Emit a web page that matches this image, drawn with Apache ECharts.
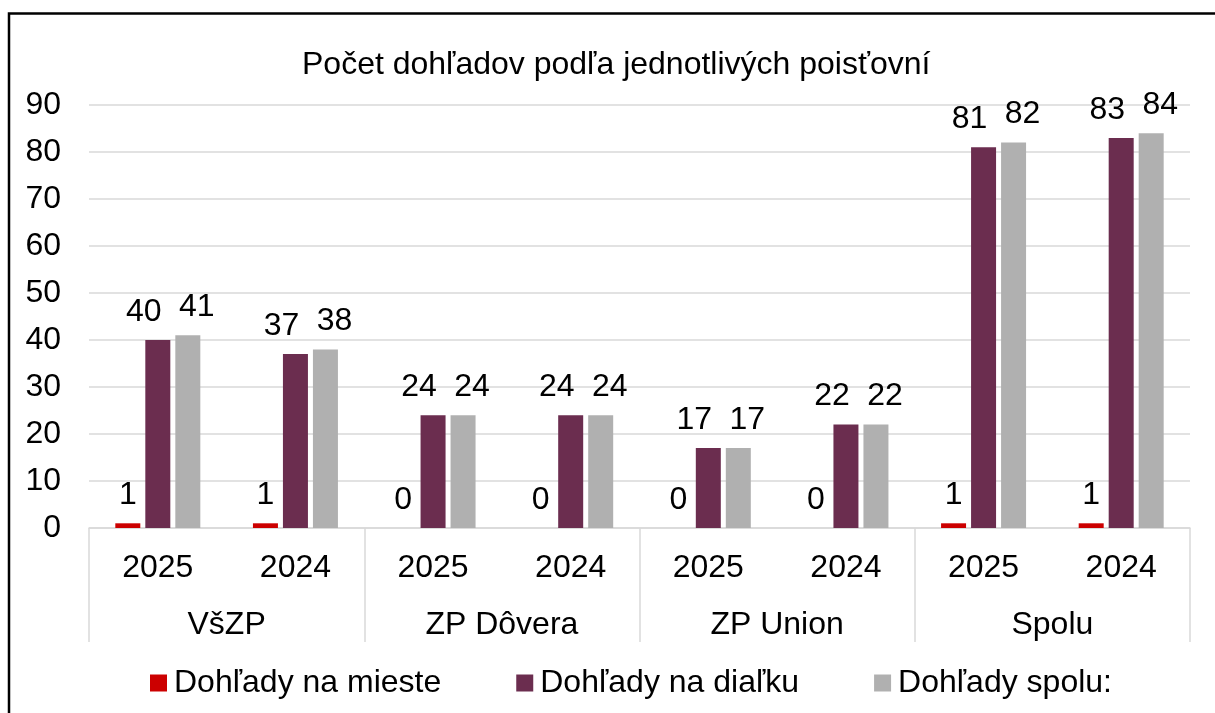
<!DOCTYPE html>
<html>
<head>
<meta charset="utf-8">
<script src="https://cdn.jsdelivr.net/npm/echarts@6/dist/echarts.min.js"></script>
<style>
  html, body { margin: 0; padding: 0; background: #fff; }
  #main { width: 1215px; height: 713px; }
</style>
</head>
<body>
<div id="main"></div>
<script>
// údaje z grafu
const years = ['2025', '2024', '2025', '2024', '2025', '2024', '2025', '2024'];
const groups = ['VšZP', 'ZP Dôvera', 'ZP Union', 'Spolu'];
const naMieste = [1, 1, 0, 0, 0, 0, 1, 1];
const naDialku = [40, 37, 24, 24, 17, 22, 81, 83];
const spolu = [41, 38, 24, 24, 17, 22, 82, 84];
const yTicks = { min: 0, max: 90, interval: 10 };

const font = 'Liberation Sans, Arial, sans-serif';
const fs = 32;
const gridColor = '#d9d9d9';

const myChart = echarts.init(document.getElementById('main'));

// popisky hodnôt nad stĺpcami (Excel ich mierne rozťahuje do strán)
function label(dx) {
  return {
    show: true,
    position: 'top',
    distance: 12,
    offset: [dx, 0],
    color: '#000',
    fontSize: fs,
    fontFamily: font
  };
}

myChart.setOption({
  animation: false,
  title: {
    text: 'Počet dohľadov podľa jednotlivých poisťovní',
    left: 297,
    top: 44,
    textStyle: { fontSize: fs, fontWeight: 'normal', color: '#000', fontFamily: font }
  },
  graphic: [{
    type: 'rect',
    shape: { x: 9, y: 13.5, width: 1300, height: 800 },
    style: { fill: 'none', stroke: '#000', lineWidth: 2.5 },
    silent: true
  }],
  legend: {
    bottom: 9,
    left: 145,
    itemWidth: 17,
    itemHeight: 17,
    itemGap: 75,
    icon: 'rect',
    textStyle: { fontSize: fs, color: '#000', fontFamily: font, padding: [0, 0, 0, 2] },
    data: ['Dohľady na mieste', 'Dohľady na diaľku', 'Dohľady spolu:']
  },
  grid: { left: 89, right: 25, top: 105, bottom: 185 },
  xAxis: [
    {
      type: 'category',
      data: years,
      position: 'bottom',
      axisLine: { lineStyle: { color: gridColor, width: 1.5 } },
      axisTick: { show: false },
      axisLabel: { fontSize: fs, color: '#000', fontFamily: font, margin: 24 }
    },
    {
      type: 'category',
      data: groups,
      position: 'bottom',
      offset: 0,
      axisLine: { show: false },
      axisTick: { show: true, length: 114, lineStyle: { color: gridColor, width: 1.5 } },
      axisLabel: { fontSize: fs, color: '#000', fontFamily: font, margin: 81 },
      splitLine: { show: false }
    }
  ],
  yAxis: {
    type: 'value',
    min: yTicks.min,
    max: yTicks.max,
    interval: yTicks.interval,
    axisLine: { show: false },
    axisTick: { show: false },
    axisLabel: { fontSize: fs, color: '#000', fontFamily: font, margin: 28 },
    splitLine: { lineStyle: { color: gridColor, width: 1.5 } }
  },
  series: [
    {
      name: 'Dohľady na mieste',
      type: 'bar',
      xAxisIndex: 0,
      data: naMieste,
      barWidth: 25,
      barGap: '20%',
      itemStyle: { color: '#cc0000' },
      label: label(0)
    },
    {
      name: 'Dohľady na diaľku',
      type: 'bar',
      xAxisIndex: 0,
      data: naDialku,
      barWidth: 25,
      barGap: '20%',
      itemStyle: { color: '#6b2d4f' },
      label: label(-14)
    },
    {
      name: 'Dohľady spolu:',
      type: 'bar',
      xAxisIndex: 0,
      data: spolu,
      barWidth: 25,
      barGap: '20%',
      itemStyle: { color: '#b0b0b0' },
      label: label(9)
    }
  ]
});
</script>
</body>
</html>
